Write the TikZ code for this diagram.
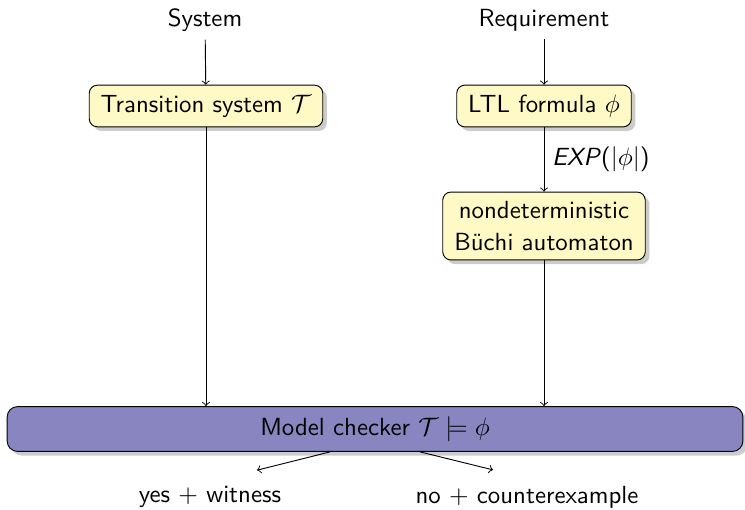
\documentclass[tikz,border=0pt]{standalone}
\usetikzlibrary{shadows,calc}
\definecolor{boxyellow}{RGB}{255,249,198}
\definecolor{mcblue}{RGB}{137,133,192}
\begin{document}
\begin{tikzpicture}[x=0.435pt,y=-0.435pt,
  every node/.style={font=\sffamily\fontsize{10.8}{13.5}\selectfont},
  stage/.style={draw,rounded corners=3.5pt,fill=boxyellow,drop shadow={shadow xshift=1.8pt,shadow yshift=-1.8pt,fill=black!40},inner xsep=5pt,inner ysep=4.2pt},
  checker/.style={draw,rounded corners=4.5pt,fill=mcblue,drop shadow={shadow xshift=1.8pt,shadow yshift=-1.8pt,fill=black!40},minimum width=320pt,minimum height=19.5pt},
  flow/.style={->,thin}]
\useasboundingbox (0,0) rectangle (745,509);
\node (sys) at (205,20) {System};
\node (req) at (544,20) {Requirement};
\node[stage] (ts) at (206,106) {Transition system $\mathcal{T}$};
\node[stage] (ltl) at (544,106) {LTL formula $\phi$};
\node[stage,align=center] (nba) at (544,226) {nondeterministic\\B\"uchi automaton};
\node[checker] (mc) at (375,429) {Model checker $\mathcal{T}\models\phi$};
\node (yes) at (210,497) {yes $+$ witness};
\node (no) at (527,497) {no $+$ counterexample};
\draw[flow] (sys) -- (ts);
\draw[flow] (req) -- (ltl);
\draw[flow] (ltl) -- node[right] {\textit{EXP}($|\phi|$)} (nba);
\draw[flow] (ts) -- (ts |- mc.north);
\draw[flow] (nba) -- (nba |- mc.north);
\draw[flow] ($(mc.south)+(-45,0)$) -- ($(yes.north)+(47,-8)$);
\draw[flow] ($(mc.south)+(45,0)$) -- ($(no.north)+(-34,-8)$);
\end{tikzpicture}
\end{document}
